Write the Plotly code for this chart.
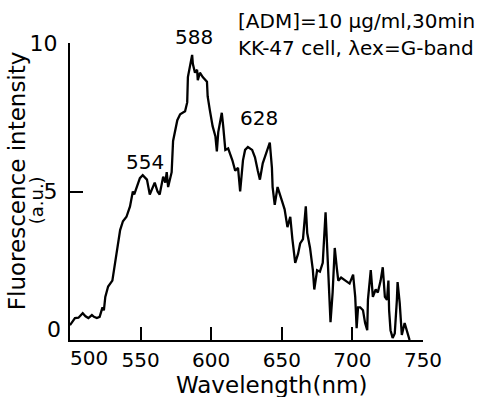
import plotly.graph_objects as go

# Emission spectrum
wavelength = [500, 503.5, 506, 509, 511, 513, 515.5, 517, 519, 521, 523, 524, 525, 527, 530,
              532, 534, 535.5, 537.5, 540, 542.5, 544.5, 545.5, 547.5, 549.5, 551.5, 554.5,
              556.5, 558, 560, 562, 563.5, 566, 567.5, 568.5, 569.5, 572, 573, 576, 578,
              581.5, 583, 583.5, 586.5, 587, 588.5, 590, 590.5, 592, 594, 597, 597.5, 599,
              601, 603, 604, 605, 607.5, 608.5, 610, 612, 615, 617, 619, 620.5, 622.5, 624,
              626, 629, 631, 633, 634.5, 636.5, 639.5, 641.5, 643, 643.5, 645, 647, 650,
              652, 654, 656, 657.5, 659.5, 661.5, 663, 665, 667, 668, 670, 672, 673, 675,
              677, 679, 681, 682, 683, 684.5, 686, 687.5, 689, 690, 692, 695, 698, 700.5,
              702, 703, 704, 705.5, 707.5, 709, 710.5, 711, 713, 714.5, 716.5, 718, 720,
              721.5, 723, 724.5, 725.5, 726, 727, 728.5, 730, 731.5, 732, 733.5, 735, 737,
              738.5, 739.5, 740.5]
intensity = [0.5, 0.74, 0.75, 0.9, 0.8, 0.74, 0.84, 0.78, 0.74, 0.78, 1.1, 1.0, 1.45, 1.8, 2.0,
             2.6, 3.1, 3.7, 4.0, 4.15, 4.5, 5.0, 4.9, 5.15, 5.45, 5.55, 5.4,
             4.9, 5.1, 5.3, 5.0, 4.9, 5.5, 5.3, 5.65, 5.15, 5.65, 6.7, 7.4, 7.6,
             7.7, 8.0, 8.85, 9.6, 9.3, 9.0, 9.1, 8.75, 9.0, 8.85, 8.7, 8.2, 7.75,
             7.2, 6.85, 6.35, 7.0, 7.65, 7.2, 6.4, 6.45, 6.05, 5.7, 5.8, 5.0, 6.05, 6.4,
             6.5, 6.4, 6.15, 5.7, 5.4, 5.95, 6.4, 6.65, 5.8, 5.15, 4.55, 5.15, 4.7,
             4.4, 3.8, 4.15, 3.4, 2.6, 2.9, 3.25, 3.4, 4.5, 3.6, 3.1, 2.35, 1.7, 2.35,
             2.3, 2.6, 4.3, 3.25, 2.0, 0.6, 1.6, 3.1, 2.4, 2.0, 2.1, 2.0, 1.9, 2.2,
             1.45, 0.4, 1.1, 1.1, 1.0, 0.57, 0.33, 1.35, 2.35, 1.45, 1.7, 1.6, 2.0,
             2.45, 1.45, 1.35, 2.0, 1.0, 0.33, 0.07, 0.22, 1.35, 1.95, 1.25, 0.17, 0.57,
             0.33, 0.1, 0.0]

x_ticks = [550, 600, 650, 700, 750]
y_ticks = [5, 10]
peak_positions = [554, 588, 628]
peak_label_x = [553, 587.5, 634]
peak_label_yp = [0.599, 1.02, 0.749]   # paper fraction of plot height

FONT = "DejaVu Sans"

fig = go.Figure()
fig.add_trace(go.Scatter(x=wavelength, y=intensity, mode="lines",
                         line=dict(color="black", width=2.3), showlegend=False,
                         hoverinfo="skip"))

for px_, py_, lab in zip(peak_label_x, peak_label_yp, peak_positions):
    fig.add_annotation(x=px_, y=py_, xref="x", yref="paper", text=str(lab), showarrow=False,
                       font=dict(family=FONT, size=20, color="black"),
                       xanchor="center", yanchor="middle")

# extra tick labels ("500" and "0" sit offset from the corner in the original)
fig.add_annotation(x=513.5, xref="x", y=-0.014, yref="paper", text="500", showarrow=False,
                   font=dict(family=FONT, size=20, color="black"),
                   xanchor="center", yanchor="top")
fig.add_annotation(x=-0.02, xref="paper", y=0.34, yref="y", text="0", showarrow=False,
                   font=dict(family=FONT, size=22, color="black"),
                   xanchor="right", yanchor="middle")

# y axis title (two lines placed separately)
fig.add_annotation(x=-0.15, xref="paper", y=0.535, yref="paper",
                   text="Fluorescence intensity", textangle=-90, showarrow=False,
                   font=dict(family=FONT, size=23, color="black"),
                   xanchor="center", yanchor="middle")
fig.add_annotation(x=-0.095, xref="paper", y=0.472, yref="paper",
                   text="(a.u.)", textangle=-90, showarrow=False,
                   font=dict(family=FONT, size=18, color="black"),
                   xanchor="center", yanchor="middle")

# x axis title
fig.add_annotation(x=0.57, xref="paper", y=-0.153, yref="paper",
                   text="Wavelength(nm)", showarrow=False,
                   font=dict(family=FONT, size=23, color="black"),
                   xanchor="center", yanchor="middle")

# condition text top right
fig.add_annotation(x=0.47, xref="paper", y=1.075, yref="paper",
                   text="[ADM]=10 μg/ml,30min", showarrow=False, align="left",
                   font=dict(family=FONT, size=20, color="black"),
                   xanchor="left", yanchor="middle")
fig.add_annotation(x=0.47, xref="paper", y=0.983, yref="paper",
                   text="KK-47 cell, λex=G-band", showarrow=False, align="left",
                   font=dict(family=FONT, size=20, color="black"),
                   xanchor="left", yanchor="middle")

fig.update_layout(
    width=500, height=397,
    margin=dict(l=70, r=77, t=43, b=57),
    paper_bgcolor="white", plot_bgcolor="white",
    font=dict(family=FONT, size=22, color="black"),
    xaxis=dict(range=[500, 750], showgrid=False, zeroline=False, showline=True,
               linecolor="black", linewidth=2, ticks="inside", ticklen=13, tickwidth=2,
               tickcolor="black", tickvals=x_ticks, ticktext=[str(v) for v in x_ticks],
               tickfont=dict(family=FONT, size=20), ticklabelstandoff=1),
    yaxis=dict(range=[0, 10], showgrid=False, zeroline=False, showline=True,
               linecolor="black", linewidth=2, ticks="inside", ticklen=13, tickwidth=2,
               tickcolor="black", tickvals=y_ticks, ticktext=[str(v) for v in y_ticks],
               tickfont=dict(family=FONT, size=22), ticklabelstandoff=6),
)

fig.write_html("out.html")
